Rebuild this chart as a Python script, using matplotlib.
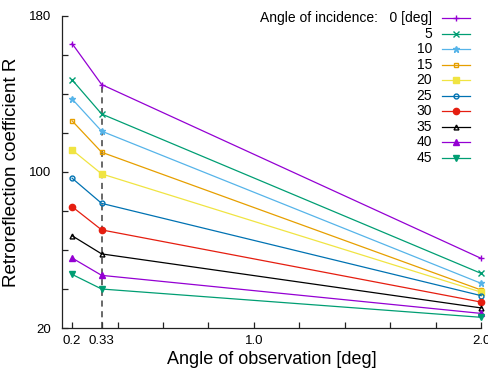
import numpy as np
import matplotlib
matplotlib.use('Agg')
import matplotlib.pyplot as plt

plt.rcParams['font.family'] = ['Liberation Sans', 'DejaVu Sans']

# observation angles [deg]
vdObservation = [0.2, 0.33, 2.0]

# angle of incidence [deg] -> retroreflection coefficient R at each observation angle
viIncidence = [0, 5, 10, 15, 20, 25, 30, 35, 40, 45]
R_0 = [165.8, 144.8, 55.7]
R_5 = [147.2, 129.7, 48.0]
R_10 = [137.4, 120.9, 42.9]
R_15 = [126.2, 110.1, 39.5]
R_20 = [111.3, 99.0, 38.4]
R_25 = [96.8, 83.9, 36.6]
R_30 = [82.2, 70.3, 33.3]
R_35 = [67.3, 58.0, 30.3]
R_40 = [55.9, 47.0, 27.5]
R_45 = [47.5, 40.0, 25.5]
vvR = [R_0, R_5, R_10, R_15, R_20, R_25, R_30, R_35, R_40, R_45]

# gnuplot-like styles
vsColors = ['#9400d3', '#009e73', '#56b4e9', '#e69f00', '#f0e442',
            '#0072b2', '#e51e10', '#000000', '#9400d3', '#009e73']
vsMarkers = ['+', 'x', '*', 's', 's', 'o', 'o', '^', '^', 'v']
vbFilled = [True, True, True, False, True, False, True, False, True, True]
vdSizes = [4.5, 4, 4.5, 3.5, 4, 3.5, 4.5, 3.5, 4, 4]

fig = plt.figure(figsize=(4.89, 3.69), dpi=100)
ax = fig.add_axes([0.127, 0.111, 0.857, 0.846])

for i, vR in enumerate(vvR):
    ax.plot(vdObservation, vR, color=vsColors[i], lw=0.9,
            marker=vsMarkers[i], ms=vdSizes[i], mew=1.0,
            mfc=vsColors[i] if vbFilled[i] else 'none',
            clip_on=False, zorder=3)

# dashed line at 0.33 deg
ax.vlines(0.33, 20, max(v[1] for v in vvR) + 1.5, colors='#404040',
          linestyles=(0, (4, 3)), lw=1.1, zorder=2)

ax.set_xlim(0.156, 2.0)
ax.set_ylim(20, 180)
ax.set_xticks([0.2, 0.33, 1.0, 2.0])
ax.set_xticklabels(['0.2', '0.33', '1.0', '2.0'])
ax.set_xticks([0.4, 0.6, 0.8, 1.2, 1.4, 1.6, 1.8], minor=True)
ax.set_yticks([20, 100, 180])
ax.set_yticks([40, 60, 80, 120, 140, 160], minor=True)
ax.tick_params(which='both', direction='in', length=4, width=0.9,
               labelsize=9.5, color='#222222')
ax.tick_params(axis='y', pad=8)
ax.tick_params(axis='x', pad=5)
for s in ['top', 'right']:
    ax.spines[s].set_visible(False)
for s in ['left', 'bottom']:
    ax.spines[s].set_linewidth(0.9)
    ax.spines[s].set_color('#222222')

ax.set_xlabel('Angle of observation [deg]', fontsize=13, labelpad=3)
ax.set_ylabel('Retroreflection coefficient R', fontsize=13.5, labelpad=6)

# legend, gnuplot style: label right-aligned, sample to the right
dTextX = 432 / 489
dLineX0 = 442 / 489
dLineX1 = 470 / 489
for i, iInc in enumerate(viIncidence):
    dY = (369 - (18.3 + 15.52 * i)) / 369
    sLabel = 'Angle of incidence:   0 [deg]' if i == 0 else str(iInc)
    fig.text(dTextX, dY, sLabel, ha='right', va='center', fontsize=10)
    fig.lines.append(plt.Line2D([dLineX0, dLineX1], [dY, dY],
                                transform=fig.transFigure, color=vsColors[i], lw=0.9))
    fig.lines.append(plt.Line2D([(dLineX0 + dLineX1) / 2], [dY],
                                transform=fig.transFigure, color=vsColors[i],
                                marker=vsMarkers[i], ms=vdSizes[i], mew=1.0,
                                mfc=vsColors[i] if vbFilled[i] else 'none'))

fig.savefig('out.png', dpi=100)
